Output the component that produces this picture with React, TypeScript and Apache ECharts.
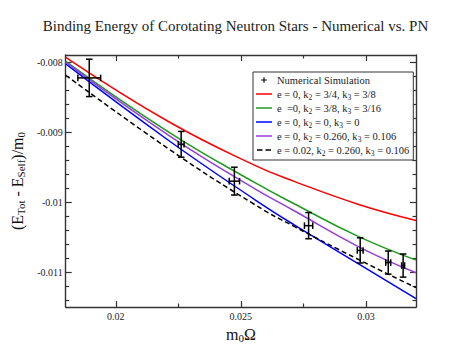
import React, { useEffect, useRef } from "react";
import * as echarts from "echarts";

// ---- data ----
const simX = [0.01894, 0.022614, 0.024741, 0.027707, 0.029769, 0.03089, 0.031485];
const simY = [-0.008227, -0.009176, -0.009702, -0.010338, -0.010692, -0.010865, -0.010908];
const simXErr = [0.000456, 0.000116, 0.000206, 0.000166, 0.000116, 0.0001, 0.00006];
const simYErr = [0.000267, 0.000184, 0.000199, 0.000187, 0.00018, 0.000165, 0.000165];

const curveX = [0.018, 0.0221, 0.02558, 0.02713, 0.02971, 0.032];
const redY = [-0.007933, -0.00885, -0.00948, -0.009705, -0.010035, -0.010264];
const greenY = [-0.00799, -0.008997, -0.009728, -0.010025, -0.010495, -0.01083];
const purpleY = [-0.008004, -0.009043, -0.009816, -0.010125, -0.01064, -0.011011];
const blueX = [0.018, 0.0221, 0.02558, 0.02713, 0.032];
const blueY = [-0.008028, -0.009118, -0.009972, -0.010326, -0.01138];
const dashY = [-0.008189, -0.009238, -0.010043, -0.010349, -0.010823, -0.011224];

const seriesNames = [
  "Numerical Simulation",
  "e = 0, k2 = 3/4, k3 = 3/8",
  "e  =0, k2 = 3/8, k3 = 3/16",
  "e = 0, k2 = 0, k3 = 0",
  "e = 0, k2 = 0.260, k3 = 0.106",
  "e = 0.02, k2 = 0.260, k3 = 0.106",
];
const seriesColors = ["#000000", "#ff0000", "#1f9a1f", "#0000ff", "#9440dc", "#000000"];

const xMajorTicks = [0.02, 0.025, 0.03];
const xMinorTicks = [0.0225, 0.0275];
const yMajorTicks = [-0.011, -0.01, -0.009, -0.008];
const yMinorTicks = [
  -0.0114, -0.0112, -0.0108, -0.0106, -0.0104, -0.0102, -0.0098, -0.0096,
  -0.0094, -0.0092, -0.0088, -0.0086, -0.0084, -0.0082,
];
const X_MIN = 0.018, X_MAX = 0.032, Y_MIN = -0.0115, Y_MAX = -0.0079;

const SERIF = "Liberation Serif";
const AXIS_COLOR = "#333";

function zip(xs: number[], ys: number[]) {
  return xs.map((x, i) => [x, ys[i]]);
}

const subStyle = (size: number) => ({
  fontFamily: SERIF, fontSize: size, color: "#111", lineHeight: 6, verticalAlign: "bottom",
});

function makeXAxis(pos: "bottom" | "top", ticks: number[], len: number, major: boolean, labels: boolean) {
  return {
    type: "value",
    position: pos,
    min: X_MIN,
    max: X_MAX,
    splitLine: { show: false },
    axisLine: { show: major, onZero: false, lineStyle: { color: AXIS_COLOR, width: 1.4 } },
    axisTick: { show: true, inside: true, length: len, customValues: ticks, lineStyle: { color: AXIS_COLOR, width: 1.2 } },
    axisLabel: labels
      ? { show: true, customValues: ticks, formatter: (v: number) => String(v), fontFamily: SERIF, fontSize: 10, color: "#222", margin: 4 }
      : { show: false },
    ...(labels
      ? {
          name: "m{s|0}Ω",
          nameLocation: "middle",
          nameGap: 3,
          nameTextStyle: {
            fontFamily: SERIF, fontSize: 16, color: "#111", lineHeight: 18, verticalAlign: "top",
            rich: { s: { ...subStyle(11), lineHeight: 8 } },
          },
        }
      : {}),
  };
}

function makeYAxis(pos: "left" | "right", ticks: number[], len: number, major: boolean, labels: boolean) {
  return {
    type: "value",
    position: pos,
    min: Y_MIN,
    max: Y_MAX,
    splitLine: { show: false },
    axisLine: { show: major, onZero: false, lineStyle: { color: AXIS_COLOR, width: 1.4 } },
    axisTick: { show: true, inside: true, length: len, customValues: ticks, lineStyle: { color: AXIS_COLOR, width: 1.2 } },
    axisLabel: labels
      ? { show: true, customValues: ticks, formatter: (v: number) => String(v), fontFamily: SERIF, fontSize: 10, color: "#222", margin: 3 }
      : { show: false },
    ...(labels
      ? {
          name: "(E{s|Tot} - E{s|Self})/m{s|0}",
          nameLocation: "middle",
          nameGap: 34,
          nameRotate: 90,
          nameTextStyle: {
            fontFamily: SERIF, fontSize: 16, color: "#111", lineHeight: 18,
            rich: { s: { ...subStyle(11), lineHeight: 8 } },
          },
        }
      : {}),
  };
}

export default function App() {
  const ref = useRef<HTMLDivElement>(null);
  useEffect(() => {
    if (!ref.current) return;
    const chart = echarts.init(ref.current, undefined, { renderer: "svg" });
    const simData = simX.map((x, i) => [x, simY[i], simXErr[i], simYErr[i]]);
    const lineSeries = (idx: number, data: number[][], dashed = false) => ({
      type: "line",
      name: seriesNames[idx],
      data,
      smooth: 0.45,
      symbol: "none",
      xAxisIndex: 0,
      yAxisIndex: 0,
      lineStyle: { color: seriesColors[idx], width: 1.5, type: dashed ? [5, 3] : "solid" },
      itemStyle: { color: seriesColors[idx] },
      z: 2,
    });
    const plusIcon =
      "path://M0,0 M16,10 M7.45,2.2 H8.55 V4.45 H10.8 V5.55 H8.55 V7.8 H7.45 V5.55 H5.2 V4.45 H7.45 Z";
    const lineIcon = "path://M0,0 M16,10 M0,4.25 H16 V5.75 H0 Z";
    const dashIcon = "path://M0,0 M16,10 M1,4.25 H6.5 V5.75 H1 Z M9.5,4.25 H15 V5.75 H9.5 Z";
    chart.setOption({
      animation: false,
      backgroundColor: "#fff",
      title: {
        text: "Binding Energy of Corotating Neutron Stars - Numerical vs. PN",
        left: "center",
        top: 13,
        textStyle: { fontFamily: SERIF, fontSize: 15, fontWeight: "normal", color: "#222" },
      },
      grid: { left: 54, right: 55, top: 55, bottom: 57, containLabel: false },
      xAxis: [
        makeXAxis("bottom", xMajorTicks, 6, true, true),
        makeXAxis("bottom", xMinorTicks, 3.5, false, false),
        makeXAxis("top", xMajorTicks, 6, true, false),
        makeXAxis("top", xMinorTicks, 3.5, false, false),
      ],
      yAxis: [
        makeYAxis("left", yMajorTicks, 6, true, true),
        makeYAxis("left", yMinorTicks, 3.5, false, false),
        makeYAxis("right", yMajorTicks, 6, true, false),
        makeYAxis("right", yMinorTicks, 3.5, false, false),
      ],
      legend: {
        orient: "vertical",
        left: 253,
        top: 72,
        padding: [1, 4, 3, 3],
        itemGap: 0,
        itemWidth: 16,
        itemHeight: 10,
        borderColor: "#333",
        borderWidth: 1,
        backgroundColor: "#fff",
        formatter: (name: string) => name.replace(/k([23])/g, "k{s|$1}"),
        textStyle: {
          fontFamily: SERIF,
          fontSize: 10.5,
          color: "#222",
          lineHeight: 14,
          rich: { s: { ...subStyle(7.5), color: "#222" } },
        },
        data: seriesNames.map((n, i) => ({
          name: n,
          icon: i === 0 ? plusIcon : i === 5 ? dashIcon : lineIcon,
          itemStyle: { color: seriesColors[i] },
        })),
        z: 10,
      },
      series: [
        {
          type: "custom",
          name: seriesNames[0],
          xAxisIndex: 0,
          yAxisIndex: 0,
          data: simData,
          itemStyle: { color: "#000" },
          z: 5,
          renderItem: (params: any, api: any) => {
            const x = api.value(0), y = api.value(1), ex = api.value(2), ey = api.value(3);
            const c = api.coord([x, y]);
            const t = api.coord([x, y + ey]);
            const b = api.coord([x, y - ey]);
            const l = api.coord([x - ex, y]);
            const r = api.coord([x + ex, y]);
            const cap = 3.3;
            const st = { stroke: "#000", lineWidth: 1.5, fill: "none" };
            const ln = (x1: number, y1: number, x2: number, y2: number) => ({
              type: "line",
              shape: { x1, y1, x2, y2 },
              style: st,
            });
            return {
              type: "group",
              children: [
                ln(t[0], t[1], b[0], b[1]),
                ln(c[0] - cap, t[1], c[0] + cap, t[1]),
                ln(c[0] - cap, b[1], c[0] + cap, b[1]),
                ln(l[0], l[1], r[0], r[1]),
                ln(l[0], c[1] - cap, l[0], c[1] + cap),
                ln(r[0], c[1] - cap, r[0], c[1] + cap),
              ],
            };
          },
        },
        lineSeries(1, zip(curveX, redY)),
        lineSeries(2, zip(curveX, greenY)),
        lineSeries(3, zip(blueX, blueY)),
        lineSeries(4, zip(curveX, purpleY)),
        lineSeries(5, zip(curveX, dashY), true),
      ],
    });
    return () => chart.dispose();
  }, []);
  return (
    <div
      ref={ref}
      style={{ position: "fixed", left: 0, top: 0, width: 471, height: 364, background: "#fff" }}
    />
  );
}
